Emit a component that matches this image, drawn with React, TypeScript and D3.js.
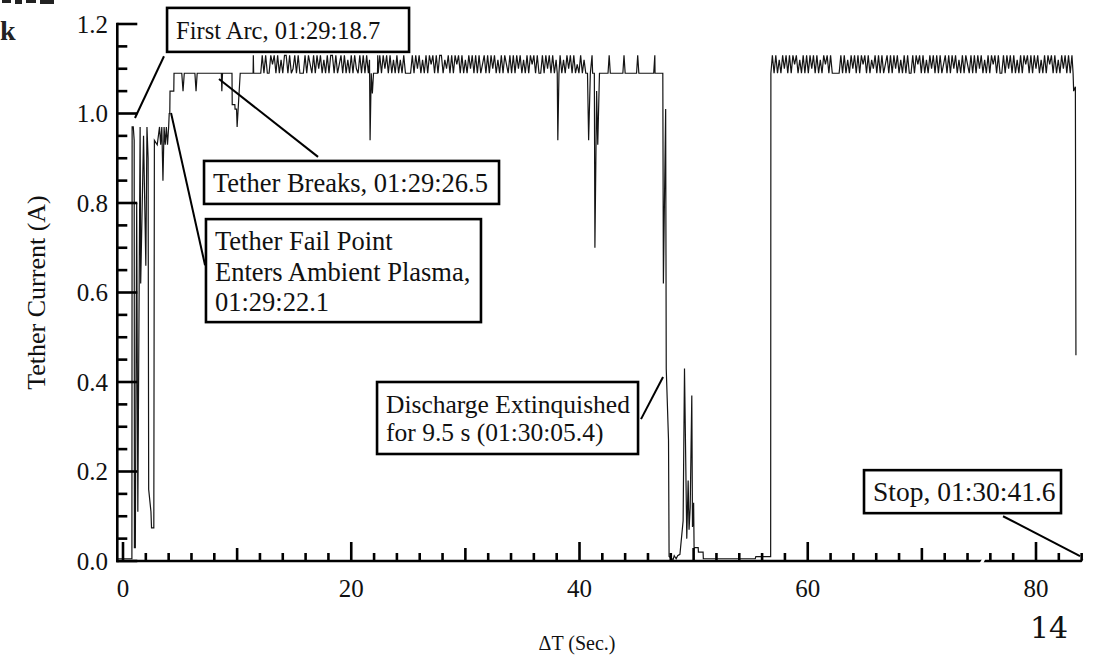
import * as d3 from "d3";

const W = 1095;
const H = 656;

// sparse parts of the trace: [time (s), tether current (A)]
const arcStart: [number, number][] = [
  [-0.45, 0.005], [0.78, 0.005], [0.8, 0.97], [0.9, 0.97], [0.98, 0.94], [1.0, 0.03],
  [1.08, 0.03], [1.2, 0.8], [1.3, 0.11], [1.5, 0.97], [1.55, 0.62], [1.8, 0.95],
  [2.0, 0.66], [2.1, 0.97], [2.2, 0.9], [2.25, 0.16], [2.45, 0.11], [2.5, 0.074],
  [2.7, 0.074], [2.75, 0.94], [3.0, 0.93], [3.2, 0.97], [3.3, 0.93], [3.4, 0.97],
  [3.5, 0.85], [3.6, 0.97], [3.7, 0.93], [3.8, 0.97], [3.9, 0.93], [4.0, 0.97],
  [4.05, 1.0], [4.1, 1.0], [4.12, 1.05], [4.45, 1.05], [4.47, 1.09],
];

const firstPlateau: [number, number][] = [
  [5.15, 1.09], [5.26, 1.05], [5.37, 1.09], [6.3, 1.09], [6.4, 1.05], [6.5, 1.09],
  [8.62, 1.09], [8.66, 1.05], [8.72, 1.09], [9.55, 1.09], [9.57, 1.02], [9.8, 1.02],
  [9.82, 1.01], [9.95, 1.01], [10.0, 0.97], [10.27, 1.09], [11.4, 1.09], [11.42, 1.13],
  [11.45, 1.09], [12.07, 1.09],
];

// telemetry sampling interval in the saturated stretches
const SAMPLE_STEP = 0.15;

const denseAStart = 12.2;
const denseA = [
  1.13, 1.09, 1.13, 1.09, 1.09, 1.13, 1.11, 1.13, 1.09, 1.13,
  1.09, 1.12, 1.09, 1.13, 1.13, 1.09, 1.13, 1.09, 1.10, 1.13,
  1.09, 1.13, 1.09, 1.09, 1.09, 1.13, 1.09, 1.13, 1.11, 1.09,
  1.13, 1.09, 1.13, 1.10, 1.13, 1.09, 1.12, 1.09, 1.13, 1.09,
  1.13, 1.13, 1.09, 1.13, 1.09, 1.11, 1.13, 1.09, 1.13, 1.09,
  1.12, 1.09, 1.13, 1.09, 1.13, 1.10, 1.09, 1.13, 1.09, 1.13,
  1.09, 1.13, 1.09,
];

const dipA: [number, number][] = [
  [21.6, 1.12], [21.65, 0.94], [21.75, 1.09], [21.85, 1.045], [21.95, 1.09],
  [22.3, 1.09], [22.32, 1.13], [22.36, 1.09],
];

const denseBStart = 22.5;
const denseB = [
  1.13, 1.09, 1.13, 1.10, 1.13, 1.09, 1.13, 1.09, 1.12, 1.09,
  1.13, 1.09, 1.12, 1.09, 1.13, 1.09, 1.09, 1.09, 1.09, 1.13,
  1.09, 1.13, 1.10, 1.13, 1.09, 1.12, 1.09, 1.13, 1.09, 1.13,
  1.11, 1.13, 1.09, 1.13, 1.09, 1.13, 1.13, 1.09, 1.12, 1.10,
  1.13, 1.09, 1.13, 1.09, 1.13, 1.11, 1.13, 1.09, 1.13, 1.09,
  1.12, 1.09, 1.13, 1.10, 1.13, 1.09, 1.13, 1.09, 1.13, 1.09,
  1.11, 1.13, 1.09, 1.13, 1.09, 1.13, 1.10, 1.13, 1.09, 1.12,
  1.09, 1.13, 1.09, 1.13, 1.11, 1.09, 1.13, 1.09, 1.13, 1.09,
  1.13, 1.10, 1.13, 1.09, 1.12, 1.09, 1.13, 1.09, 1.13, 1.11,
  1.13, 1.09, 1.13, 1.09, 1.09, 1.13, 1.09, 1.13, 1.10, 1.13,
  1.09, 1.13, 1.09, 1.12,
];

const dipB: [number, number][] = [[38.05, 1.09], [38.1, 0.94], [38.2, 1.09]];

const denseCStart = 38.3;
const denseC = [
  1.13, 1.09, 1.12, 1.09, 1.13, 1.10, 1.13, 1.09, 1.13, 1.09,
  1.11, 1.09, 1.13, 1.09, 1.12, 1.09,
];

const lateSpikes: [number, number][] = [
  [40.7, 1.09], [40.8, 0.94], [40.95, 1.09], [41.1, 1.13], [41.15, 1.09], [41.3, 1.09],
  [41.35, 0.7], [41.5, 1.05], [41.6, 0.93], [41.75, 1.09], [42.5, 1.09], [42.6, 1.13],
  [42.7, 1.09], [43.8, 1.09], [43.9, 1.13], [44.0, 1.09], [45.0, 1.09], [45.1, 1.13],
  [45.2, 1.09], [46.5, 1.09], [46.6, 1.13], [46.62, 1.09], [47.3, 1.09],
];

const extinction: [number, number][] = [
  [47.35, 0.62], [47.55, 1.01], [47.6, 0.43], [47.8, 0.27], [47.85, 0.01],
  [48.2, 0.003], [48.3, 0.012], [48.47, 0.005], [48.6, 0.012], [48.8, 0.015],
  [49.08, 0.09], [49.2, 0.43], [49.4, 0.05], [49.52, 0.18], [49.6, 0.07],
  [49.7, 0.12], [49.84, 0.37], [49.9, 0.076], [49.98, 0.1], [50.0, 0.13],
  [50.04, 0.03], [50.4, 0.03], [50.42, 0.02], [50.83, 0.02], [50.85, 0.005],
  [55.4, 0.005], [55.45, 0.01], [56.75, 0.01], [56.77, 1.09],
];

const denseDStart = 56.9;
const denseD = [
  1.13, 1.09, 1.13, 1.09, 1.12, 1.09, 1.13, 1.10, 1.13, 1.09,
  1.13, 1.09, 1.13, 1.11, 1.13, 1.09, 1.12, 1.09, 1.13, 1.09,
  1.13, 1.09, 1.13, 1.10, 1.13, 1.09, 1.13, 1.09, 1.12, 1.09,
  1.13, 1.11, 1.13, 1.09, 1.13, 1.09, 1.09, 1.09, 1.09, 1.09,
  1.13, 1.09, 1.13, 1.09, 1.12, 1.09, 1.13, 1.10, 1.13, 1.09,
  1.13, 1.09, 1.13, 1.11, 1.13, 1.09, 1.13, 1.09, 1.12, 1.10,
  1.13, 1.09, 1.13, 1.09, 1.13, 1.09, 1.11, 1.13, 1.09, 1.13,
  1.09, 1.13, 1.10, 1.13, 1.09, 1.12, 1.09, 1.13, 1.09, 1.13,
  1.09, 1.09, 1.13, 1.09, 1.13, 1.11, 1.13, 1.09, 1.13, 1.09,
  1.12, 1.09, 1.13, 1.10, 1.13, 1.09, 1.13, 1.09, 1.13, 1.09,
  1.11, 1.13, 1.09, 1.13, 1.09, 1.13, 1.10, 1.13, 1.09, 1.12,
  1.09, 1.13, 1.09, 1.13, 1.11, 1.09, 1.13, 1.09, 1.13, 1.09,
  1.13, 1.10, 1.13, 1.09, 1.12, 1.09, 1.13, 1.09, 1.13, 1.11,
  1.13, 1.09, 1.13, 1.09, 1.09, 1.13, 1.09, 1.13, 1.10, 1.13,
  1.09, 1.13, 1.09, 1.12, 1.09, 1.13, 1.09, 1.13, 1.11, 1.13,
  1.09, 1.13, 1.09, 1.13, 1.10, 1.13, 1.09, 1.12, 1.09, 1.13,
  1.09, 1.13, 1.11, 1.13, 1.09, 1.13, 1.09, 1.12, 1.09, 1.13,
  1.10, 1.13, 1.09, 1.13, 1.09, 1.13,
];

const stopTail: [number, number][] = [
  [83.25, 1.09], [83.3, 1.05], [83.45, 1.06], [83.5, 0.46],
];

const xMajorTicks = [0, 20, 40, 60, 80];
const yMajorTicks = [0, 0.2, 0.4, 0.6, 0.8, 1.0, 1.2];

// where the scan lost bits of the x axis (seconds)
const scanGaps = [75.3, 84.2];

// annotation boxes: left/top in data units, leader from -> to in data units
const annotations = [
  { t: 3.86, v: 1.236, w: 242, h: 44, fs: 24.5, lines: ["First Arc, 01:29:18.7"], from: [3.59, 1.128], to: [1.05, 0.99] },
  { t: 7.1, v: 0.894, w: 295, h: 43, fs: 26.5, lines: ["Tether Breaks, 01:29:26.5"], from: [8.41, 1.077], to: [17.09, 0.903] },
  {
    t: 7.27, v: 0.764, w: 275, h: 103, fs: 26.5,
    lines: ["Tether Fail Point", "Enters Ambient Plasma,", "01:29:22.1"],
    from: [4.21, 1.001], to: [7.19, 0.661],
  },
  {
    t: 22.26, v: 0.4, w: 261, h: 72, fs: 25.5,
    lines: ["Discharge Extinquished", "for 9.5 s (01:30:05.4)"],
    from: [45.39, 0.317], to: [47.32, 0.411],
  },
  { t: 64.93, v: 0.203, w: 197, h: 43, fs: 27.5, lines: ["Stop, 01:30:41.6"], from: [77.11, 0.1], to: [83.86, 0.011] },
];

const sampled = (start: number, vals: number[]): [number, number][] =>
  vals.map((v, i) => [start + i * SAMPLE_STEP, v]);

const trace: [number, number][] = [
  ...arcStart,
  ...firstPlateau,
  ...sampled(denseAStart, denseA),
  ...dipA,
  ...sampled(denseBStart, denseB),
  ...dipB,
  ...sampled(denseCStart, denseC),
  ...lateSpikes,
  ...extinction,
  ...sampled(denseDStart, denseD),
  ...stopTail,
];

const FONT = "'Liberation Serif', 'Times New Roman', serif";

export default function App() {
  const x = d3.scaleLinear().domain([0, 80]).range([123, 1036]);
  const y = d3.scaleLinear().domain([0, 1.2]).range([561, 24]);

  const line = d3
    .line<[number, number]>()
    .x((d) => x(d[0]))
    .y((d) => y(d[1]));

  const xTicks = d3.range(0, 85, 2);
  const yTicks = d3.range(0, 25).map((i) => i * 0.05);

  const x0 = x(-0.5);
  const x1 = x(84.3);

  return (
    <svg
      width={W}
      height={H}
      style={{ position: "absolute", left: 0, top: 0, background: "#fff" }}
      fontFamily={FONT}
    >
      {/* slivers of the previous line of the scanned page */}
      <g fill="#222">
        <rect x={2} y={0} width={9} height={3} />
        <rect x={15} y={0} width={7} height={4} />
        <rect x={26} y={0} width={10} height={3} />
        <rect x={40} y={0} width={14} height={4} />
      </g>
      <text x={0} y={40} fontSize={28} fontWeight="bold" fill="#222">k</text>

      {/* trace */}
      <path d={line(trace) ?? ""} fill="none" stroke="#141414" strokeWidth={1.2} />

      {/* axes */}
      <g stroke="#000" strokeWidth={2.6}>
        <line x1={x0} x2={x0} y1={y(0) + 1.3} y2={y(1.2) - 1.3} />
        <line x1={x0 - 1.3} x2={x1} y1={y(0)} y2={y(0)} />
        {yTicks.map((v) => {
          const major = Math.abs(v * 5 - Math.round(v * 5)) < 1e-6;
          return <line key={"yt" + v} x1={x0} x2={x0 + (major ? 20 : 10)} y1={y(v)} y2={y(v)} />;
        })}
        {xTicks.map((t) => {
          const len = t % 20 === 0 ? 19 : t % 10 === 0 ? 13 : 8;
          return <line key={"xt" + t} x1={x(t)} x2={x(t)} y1={y(0)} y2={y(0) - len} />;
        })}
      </g>
      {scanGaps.map((t) => (
        <path
          key={"gap" + t}
          d={`M${x(t) - 4},${y(0) + 4} L${x(t) + 1},${y(0) - 4} L${x(t) + 4},${y(0) - 4} L${x(t)},${y(0) + 4} Z`}
          fill="#fff"
        />
      ))}

      <g fontSize={25} fill="#111">
        {yMajorTicks.map((v) => (
          <text key={"yl" + v} x={108} y={y(v)} dy="0.35em" textAnchor="end">
            {v.toFixed(1)}
          </text>
        ))}
        {xMajorTicks.map((t) => (
          <text key={"xl" + t} x={x(t)} y={597} textAnchor="middle">
            {t}
          </text>
        ))}
        <text transform={`translate(${45},${y(0.6)}) rotate(-90)`} textAnchor="middle" fontSize={26}>
          Tether Current (A)
        </text>
        <text x={577} y={650} textAnchor="middle" fontSize={20}>
          ΔT (Sec.)
        </text>
      </g>

      {/* annotations */}
      {annotations.map((a, i) => {
        const bx = x(a.t);
        const by = y(a.v);
        return (
          <g key={"an" + i}>
            <line
              x1={x(a.from[0])}
              y1={y(a.from[1])}
              x2={x(a.to[0])}
              y2={y(a.to[1])}
              stroke="#000"
              strokeWidth={2}
            />
            <rect x={bx} y={by} width={a.w} height={a.h} fill="#fff" stroke="#000" strokeWidth={2.6} />
            {a.lines.map((s, j) => (
              <text
                key={j}
                x={bx + 9}
                y={by + 31 + j * (a.lines.length === 3 ? 30.5 : 28)}
                fontSize={a.fs}
                fill="#111"
              >
                {s}
              </text>
            ))}
          </g>
        );
      })}

      {/* page number */}
      <text x={1030} y={638} fontSize={30} fontFamily="'DejaVu Serif', serif" fill="#111">14</text>
    </svg>
  );
}
